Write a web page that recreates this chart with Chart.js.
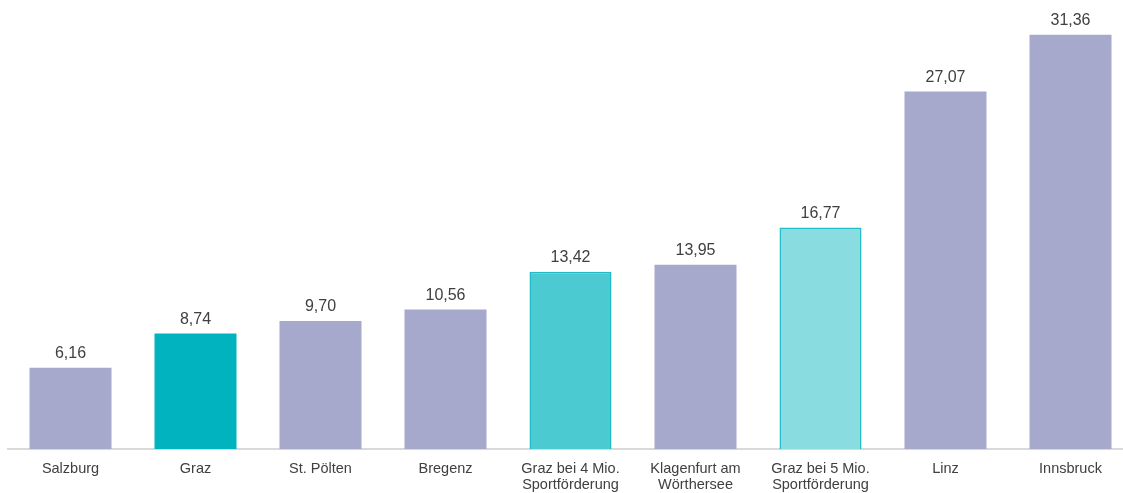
<!DOCTYPE html>
<html>
<head>
<meta charset="utf-8">
<script src="https://cdn.jsdelivr.net/npm/chart.js@4/dist/chart.umd.min.js"></script>
<style>
  html, body { margin: 0; padding: 0; background: #ffffff; overflow: hidden; width: 1123px; height: 493px; }
  #wrap { position: relative; width: 1133px; height: 493px; }
</style>
</head>
<body>
<div id="wrap"><canvas id="c" width="1133" height="493"></canvas></div>
<script>
const categories = [
  ["Salzburg"], ["Graz"], ["St. Pölten"], ["Bregenz"],
  ["Graz bei 4 Mio.", "Sportförderung"], ["Klagenfurt am", "Wörthersee"],
  ["Graz bei 5 Mio.", "Sportförderung"], ["Linz"], ["Innsbruck"]
];
const values = [6.16, 8.74, 9.70, 10.56, 13.42, 13.95, 16.77, 27.07, 31.36];
const fillColors = ["#A6A9CC", "#00B3BF", "#A6A9CC", "#A6A9CC", "#4BCAD2", "#A6A9CC", "#89DCE0", "#A6A9CC", "#A6A9CC"];
const borderColors = ["#A6A9CC", "#00B3BF", "#A6A9CC", "#A6A9CC", "#1FBAC5", "#A6A9CC", "#22BDC8", "#A6A9CC", "#A6A9CC"];
const borderWidths = [0, 0, 0, 0, 1.5, 0, 1.5, 0, 0];

const FONT = "'Liberation Sans', Arial, sans-serif";
const TEXT = "#404040";

const valueLabels = {
  id: 'valueLabels',
  afterDatasetsDraw(chart) {
    const ctx = chart.ctx;
    const meta = chart.getDatasetMeta(0);
    ctx.save();
    ctx.font = "16px " + FONT;
    ctx.fillStyle = TEXT;
    ctx.textAlign = "center";
    ctx.textBaseline = "alphabetic";
    meta.data.forEach((bar, i) => {
      ctx.fillText(values[i].toFixed(2).replace('.', ','), bar.x, bar.y - 10);
    });
    ctx.restore();
  }
};

new Chart(document.getElementById('c'), {
  type: 'bar',
  data: {
    labels: categories,
    datasets: [{
      data: values,
      backgroundColor: fillColors,
      borderColor: borderColors,
      borderWidth: borderWidths,
      borderSkipped: 'bottom',
      categoryPercentage: 1.0,
      barPercentage: 0.656
    }]
  },
  options: {
    responsive: false,
    animation: false,
    devicePixelRatio: 1,
    layout: { padding: { left: 8, right: 0, top: 0, bottom: 0 } },
    plugins: { legend: { display: false }, tooltip: { enabled: false } },
    scales: {
      x: {
        grid: { display: false, drawTicks: false },
        border: { display: true, color: "#D9D9D9", width: 2 },
        ticks: { color: TEXT, font: { family: FONT, size: 14.5, lineHeight: 1.12 }, padding: 12, maxRotation: 0, autoSkip: false },
        afterFit(scale) { scale.height = 44; }
      },
      y: {
        display: false,
        min: 0,
        max: 34
      }
    }
  },
  plugins: [valueLabels]
});
</script>
</body>
</html>
